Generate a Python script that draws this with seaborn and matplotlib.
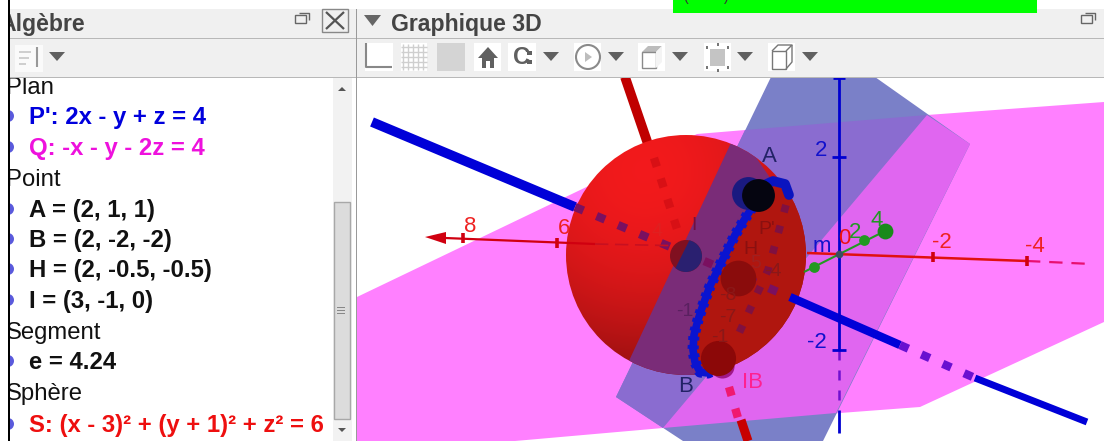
#!/usr/bin/env python3
"""GeoGebra window: algebra list on the left, 3D view with sphere and planes on the right."""

import numpy as np
import matplotlib
matplotlib.use("Agg")
import matplotlib.pyplot as plt
from matplotlib.patches import Circle, Polygon, Rectangle
import seaborn as sns

# algebra panel: (text, baseline y, colour, bold)
algebra_lines = ["Plan", "P': 2x - y + z = 4", "Q: -x - y - 2z = 4", "Point", "A = (2, 1, 1)",
                 "B = (2, -2, -2)", "H = (2, -0.5, -0.5)", "I = (3, -1, 0)", "Segment", "e = 4.24",
                 "Sphère", "S: (x - 3)² + (y + 1)² + z² = 6"]
algebra_y = [94, 124, 155, 186, 217, 247, 277, 308, 339, 369, 400, 432]
algebra_colors = ["#111111", "#0000dd", "#ee11dd", "#111111", "#111111", "#111111",
                  "#111111", "#111111", "#111111", "#111111", "#111111", "#ee0f0f"]

# planes
plane_q_x = [357, 697, 927, 1104, 1104, 920, 840, 663, 515, 357]
plane_q_y = [297, 134, 115, 102, 322, 407, 413, 428, 441, 441]
plane_p_x = [771, 875, 970, 823, 683, 616]
plane_p_y = [77, 77, 144, 441, 441, 397]
blue_front_x = [745, 927, 663, 616]
blue_front_y = [130, 115, 428, 397]
pink_front_x = [927, 970, 836, 663]
pink_front_y = [115, 144, 413, 428]

# circle of intersection, seen on the sphere
arc_x = [757, 746, 735, 720, 710, 703, 698, 694, 693, 695, 700, 708, 717]
arc_y = [200, 217, 235, 265, 286, 305, 320, 335, 350, 362, 372, 373, 369]
arc_top_x = [762, 773, 785, 789]
arc_top_y = [186, 181, 184, 195]
band_x = [737, 773, 757, 735, 720, 703, 694, 693, 700, 640, 620]
band_y = [130, 182, 200, 235, 265, 305, 335, 350, 385, 385, 380]
front_x = [773, 789, 830, 830, 700, 693, 694, 703, 720, 735, 757]
front_y = [182, 195, 200, 400, 385, 350, 335, 305, 265, 235, 200]

# segments of the blue line, the red line and the axes
line_d_x = [372, 575, 790, 900, 975, 1087]
line_d_y = [122, 207, 297, 345, 378, 422]
red_line_top_x = [625, 650]
red_line_top_y = [77, 150]
red_line_in_x = [654, 680]
red_line_in_y = [158, 238]
red_line_low_x = [741, 748]
red_line_low_y = [420, 441]
ib_dash_x = [729, 738]
ib_dash_y = [387, 418]
back_dash_x = [786, 768, 735]
back_dash_y = [205, 270, 342]
axis_x_x = [445, 595, 690, 807, 1027]
axis_x_y = [238, 244, 246, 253, 261]
axis_x_back_x = [1027, 1092]
axis_x_back_y = [261, 264]
axis_y_x = [804, 885]
axis_y_y = [272, 231]
axis_z_x = [839, 839]
axis_z_y = [78, 350]

# points
tick_x = [463, 557, 933, 1027]
tick_y = [238, 243, 257, 261]
green_x = [814, 864]
green_y = [267, 240]
big_x = [748, 758, 738, 722, 718]
big_y = [193, 195, 278, 366, 358]
big_colors = ["#1a1a80", "#050510", "#8a0c0c", "#a01888", "#8c0808"]
big_sizes = [560, 560, 660, 300, 640]

# labels outside the sphere: text, x, y, colour
label_text = ["8", "6", "-2", "-4", "2", "-2", "0", "m", "2", "4", "A", "B", "IB"]
label_x = [470, 564, 942, 1035, 821, 817, 844, 822, 855, 877, 769, 686, 752]
label_y = [226, 228, 242, 247, 150, 343, 238, 246, 233, 221, 157, 387, 383]
label_colors = ["#ee2222", "#ee2222", "#ee2222", "#ee2222", "#1111cc", "#1111cc", "#ee1111", "#1111cc",
                "#229922", "#229922", "#222266", "#222266", "#ff2090"]

# dim labels seen through the sphere
inner_text = ["I", "P'", "H", "-1", "-8", "-7", "5", "-4", "4", "-1"]
inner_x = [694, 767, 750, 685, 728, 728, 756, 773, 657, 720]
inner_y = [226, 229, 249, 312, 295, 318, 264, 272, 232, 337]
inner_colors = ["#701040", "#8a1010", "#8a1010", "#5a2060", "#8a1818", "#8a1818", "#a02020",
                "#8a1818", "#e02020", "#8a1818"]

# toolbar icons
arrow_x = [57, 551, 616, 680, 745, 810]

sns.set_theme(style="white")
plt.rcParams["font.family"] = ["Liberation Sans", "DejaVu Sans"]

fig = plt.figure(figsize=(11.04, 4.41), dpi=100)
ax = fig.add_axes([0, 0, 1, 1])
ax.set_axis_off()


def poly(xs, ys, color, z, alpha=None, clip=None):
    p = Polygon(list(zip(xs, ys)), closed=True, facecolor=color, edgecolor="none", zorder=z, alpha=alpha)
    ax.add_patch(p)
    if clip is not None:
        p.set_clip_path(clip)
    return p


def rect(x, y, w, h, color, z, edge="none"):
    ax.add_patch(Rectangle((x, y), w, h, facecolor=color, edgecolor=edge, linewidth=1, zorder=z))


def line(xs, ys, color, lw, z, dash=None, cap="butt"):
    kw = {"linestyle": (0, dash), "dash_capstyle": "butt"} if dash else {"solid_capstyle": cap}
    sns.lineplot(x=xs, y=ys, sort=False, estimator=None, errorbar=None, color=color, linewidth=lw,
                 zorder=z, legend=False, ax=ax, **kw)


def dots(xs, ys, color, size, z):
    sns.scatterplot(x=xs, y=ys, color=color, s=size, linewidth=0, zorder=z, legend=False, ax=ax)


# planes behind the sphere
poly(plane_q_x, plane_q_y, "#ff80ff", 1)
poly(plane_p_x, plane_p_y, "#7a80c8", 2)
poly(blue_front_x, blue_front_y, "#8a6cd0", 3)
poly(pink_front_x, pink_front_y, "#e066f0", 3)

# sphere with soft shading towards the lower side
cx, cy, r = 686, 255, 120
gx, gy = np.meshgrid(np.linspace(cx - r, cx + r, 240), np.linspace(cy - r, cy + r, 240))
shade = np.clip(np.hypot(gx - 645, gy - 170) / 210, 0, 1) ** 2
img = np.zeros(gx.shape + (3,))
img[..., 0] = 0.95 - 0.38 * shade
img[..., 1] = 0.10 - 0.04 * shade
img[..., 2] = 0.11 - 0.05 * shade
circle = Circle((cx, cy), r, transform=ax.transData)
im = ax.imshow(img, extent=(cx - r, cx + r, cy + r, cy - r), zorder=4, aspect="auto")
im.set_clip_path(circle)
poly(band_x, band_y, "#7a2c78", 5, clip=circle)
poly(front_x, front_y, "#b0160f", 5, clip=circle)

# lines
line(line_d_x[:2], line_d_y[:2], "#0000d8", 7, 6)
line(line_d_x[1:3], line_d_y[1:3], "#7a1060", 6, 6, dash=(1.1, 1.7))
line(line_d_x[2:4], line_d_y[2:4], "#0000d8", 6, 6)
line(line_d_x[3:5], line_d_y[3:5], "#6a10d0", 6, 6, dash=(1.1, 1.7))
line(line_d_x[4:6], line_d_y[4:6], "#0000d8", 5, 6)
line(red_line_top_x, red_line_top_y, "#c00000", 7, 3)
line(red_line_in_x, red_line_in_y, "#d81015", 6, 6, dash=(1.1, 1.5))
line(red_line_low_x, red_line_low_y, "#c80000", 6.5, 3)
line(ib_dash_x, ib_dash_y, "#f01870", 6, 6, dash=(1.1, 1.6))
line(back_dash_x, back_dash_y, "#801040", 5.5, 6, dash=(1, 1.8))
line(axis_x_x[:2], axis_x_y[:2], "#d00010", 1.6, 6)
line(axis_x_x[1:3], axis_x_y[1:3], "#c81020", 1.2, 6, dash=(8, 4))
line(axis_x_x[3:], axis_x_y[3:], "#e01010", 1.8, 7)
line(axis_x_back_x, axis_x_back_y, "#e81070", 1.6, 6, dash=(6, 4))
line(axis_y_x, axis_y_y, "#229922", 1.5, 7)
line(axis_z_x, axis_z_y, "#0000d0", 2, 7)
line([839, 839], [350, 410], "#7010d0", 1.8, 7, dash=(4, 4))
line([839, 839], [410, 433], "#0000d0", 2, 7)
line(arc_x, arc_y, "#0a14d0", 5.5, 8, cap="round")
line(arc_x, arc_y, "#0a14d0", 8, 8, dash=(0.35, 0.45))
line(arc_top_x, arc_top_y, "#0a14c0", 7, 8, cap="round")

# arrow of the x axis and ticks
poly([425, 446, 446], [237, 232, 244], "#d00010", 7)
for tx, ty in zip(tick_x, tick_y):
    line([tx, tx], [ty - 5, ty + 5], "#d00010", 2.6, 7)
line([832, 846], [157, 157], "#0000d0", 2, 7)
line([832, 846], [350, 350], "#0000d0", 2, 7)
line([833, 845], [78, 78], "#0000d0", 2, 7)
dots(green_x, green_y, "#229922", 60, 8)
dots([885], [231], "#1a8a1a", 130, 8)
dots([839], [254], "#3a5060", 30, 8)

# big points
for px, py, pc, ps in zip(big_x, big_y, big_colors, big_sizes):
    dots([px], [py], pc, ps, 9)
# point I is half red, half navy
i_circle = Circle((686, 256), 16, facecolor="#801020", edgecolor="none", zorder=9)
ax.add_patch(i_circle)
poly([697, 715, 715, 667], [225, 225, 285, 285], "#2a2070", 9.5, clip=i_circle)

for t, lx, ly, lc in zip(label_text, label_x, label_y, label_colors):
    ax.text(lx, ly, t, color=lc, fontsize=16, ha="center", va="center", zorder=10)
for t, lx, ly, lc in zip(inner_text, inner_x, inner_y, inner_colors):
    ax.text(lx, ly, t, color=lc, fontsize=14, ha="center", va="center", zorder=10)

# window frame, drawn over the scene
rect(0, 0, 355, 441, "white", 19)
rect(355, 13, 749, 64, "#f0f0f0", 20)
rect(9, 9, 346, 30, "#f0f0f0", 20)
rect(355, 9, 749, 5, "#f0f0f0", 20)
rect(0, 0, 1104, 9, "white", 20)
rect(673, 0, 364, 13, "#00ff00", 21)
ax.text(685, -3, "(", fontsize=10, ha="center", va="center", color="#333333", zorder=22)
ax.text(726, -3, ")", fontsize=10, ha="center", va="center", color="#333333", zorder=22)
rect(9, 38, 1095, 1, "#b8b8b8", 22)
rect(9, 77, 1095, 1, "#b8b8b8", 22)
rect(355.5, 9, 1.5, 432, "#9a9a9a", 23)

ax.text(-1, 31, "Algèbre", fontsize=16.6, fontweight="bold", color="#444444", va="baseline", zorder=21)
ax.text(391, 31, "Graphique 3D", fontsize=16.6, fontweight="bold", color="#444444", va="baseline", zorder=21)
poly([364, 381, 372.5], [15, 15, 26], "#666666", 21)

for t, ty, tc in zip(algebra_lines, algebra_y, algebra_colors):
    bold = t not in ("Plan", "Point", "Segment", "Sphère")
    ax.text(29 if bold else 6, ty, t, color=tc, fontsize=17.2,
            fontweight="bold" if bold else "normal", va="baseline", zorder=21)
    if bold:
        ax.add_patch(Circle((8, ty - 8), 6, facecolor="#5a5adc", edgecolor="none", zorder=21))
rect(0, 0, 8, 441, "white", 24)
rect(7.5, 0, 2, 441, "#000000", 25)
# toolbar strip hides the top of the first row
rect(9, 39, 346, 38, "#f0f0f0", 21.5)

# scrollbar
rect(333, 78, 19, 363, "#f2f2f2", 22)
rect(334, 201.5, 16, 217, "#dcdcdc", 23, edge="#a8a8a8")
poly([338, 346, 342], [91, 91, 87], "#555555", 24)
poly([338, 346, 342], [428, 428, 432], "#555555", 24)
for gy_ in (307, 310, 313):
    rect(337, gy_, 8, 1, "#888888", 24)

# header buttons
for bx in (302, 1088):
    rect(bx - 7, 15, 11, 8, "#f0f0f0", 22, edge="#666666")
    line([bx - 3, bx + 7, bx + 7], [13, 13, 20], "#666666", 1, 22)
rect(322, 9, 26, 23, "#f0f0f0", 22, edge="#888888")
line([326, 344], [12, 29], "#555555", 1.6, 23)
line([344, 326], [12, 29], "#555555", 1.6, 23)

# toolbar
rect(15, 45, 28, 27, "#fafafa", 22)
for ly_, lw_ in ((51, 12), (57, 10), (63, 7)):
    rect(19, ly_, lw_, 2, "#cfcfcf", 23)
line([37, 37], [47, 67], "#999999", 1.5, 23)
for ax_ in arrow_x:
    poly([ax_ - 8, ax_ + 8, ax_], [52, 52, 61], "#606060", 23)
# axes button
rect(365, 43, 28, 28, "#ffffff", 22)
line([366, 366, 392], [43, 67, 67], "#888888", 1.5, 23)
# grid button
rect(401, 43, 26, 28, "#ffffff", 22)
for k in range(5):
    line([403 + k * 5, 403 + k * 5], [44, 70], "#cfcfcf", 1, 23)
    line([401, 427], [47 + k * 5, 47 + k * 5], "#cfcfcf", 1, 23)
rect(437, 43, 28, 28, "#d4d4d4", 22)
# home
rect(474, 43, 27, 28, "#ffffff", 22)
poly([488, 478, 482, 482, 486, 486, 490, 490, 494, 494, 498], [47, 58, 58, 68, 68, 61, 61, 68, 68, 58, 58],
     "#606060", 23)
# magnet
rect(508, 43, 28, 28, "#ffffff", 22)
ax.text(521, 57, "C", fontsize=17, fontweight="bold", color="#606060", ha="center", va="center", zorder=23)
rect(527, 51, 5, 4, "#606060", 23)
rect(527, 60, 5, 4, "#606060", 23)
# rotate
rect(574, 43, 27, 28, "#ffffff", 22)
ax.add_patch(Circle((588, 57), 12, facecolor="none", edgecolor="#8a8a8a", linewidth=1.5, zorder=23))
poly([585, 585, 592], [52, 62, 57], "#bdbdbd", 23)
# box views
rect(638, 43, 27, 28, "#ffffff", 22)
poly([642, 648, 662, 656], [52, 46, 46, 52], "#bcbcbc", 23)
ax.add_patch(Rectangle((642, 52), 14, 16, facecolor="white", edgecolor="#8a8a8a", zorder=23))
poly([656, 662, 662, 656], [52, 46, 62, 68], "#f4f4f4", 23)
rect(704, 43, 27, 28, "#ffffff", 22)
rect(710, 49, 15, 17, "#c4c4c4", 23)
for sx, sy in ((706, 47), (727, 47), (706, 67), (727, 67), (717, 44), (717, 70)):
    rect(sx, sy - 1, 2, 3, "#777777", 23)
rect(768, 43, 27, 28, "#ffffff", 22)
poly([772, 778, 792, 786], [51, 45, 45, 51], "#ffffff", 23)
ax.add_patch(Rectangle((772, 51), 14, 18, facecolor="white", edgecolor="#777777", zorder=23))
line([772, 778, 792, 786], [51, 45, 45, 51], "#777777", 1, 23)
line([792, 792, 786], [45, 62, 69], "#777777", 1, 23)

ax.set_xlim(0, 1104)
ax.set_ylim(441, 0)
fig.savefig("out.png", dpi=100)
